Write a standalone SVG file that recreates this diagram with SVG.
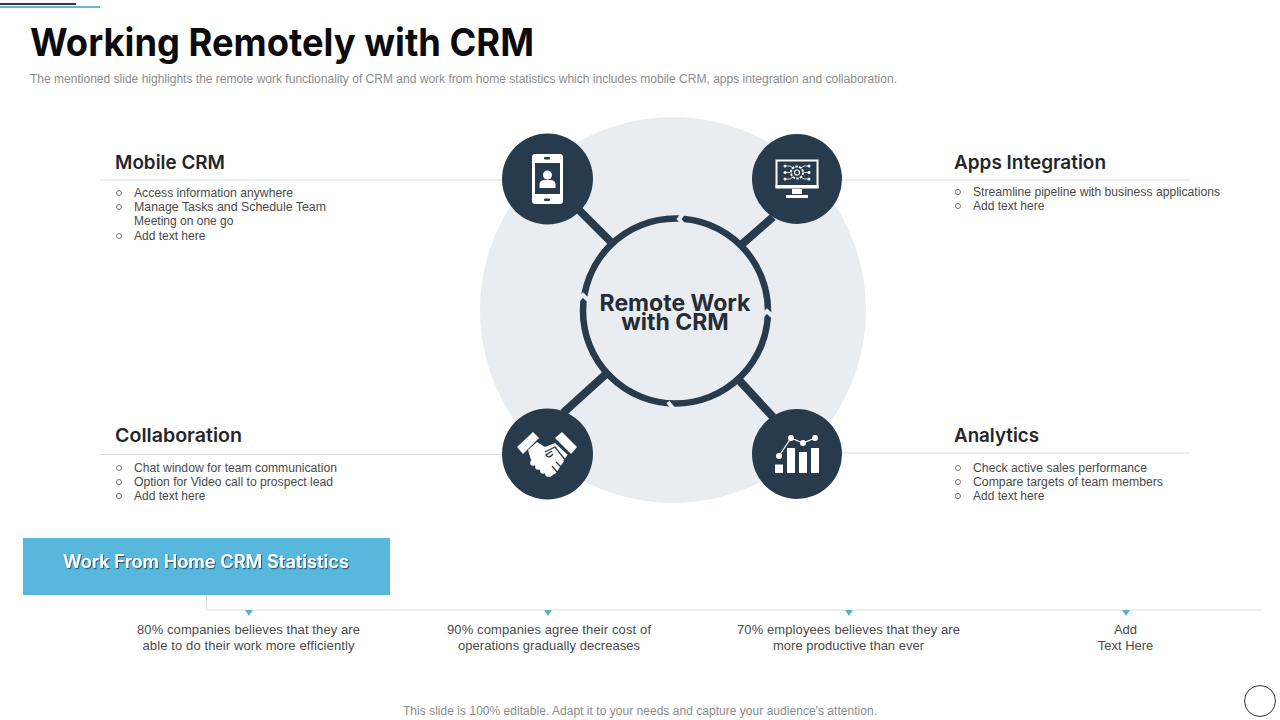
<svg xmlns="http://www.w3.org/2000/svg" width="1280" height="720" viewBox="0 0 1280 720">
<style>
text{font-family:"Liberation Sans",Arial,sans-serif}
.title{font-family:Inter,"Liberation Sans",sans-serif;font-weight:700;font-size:38px;fill:#0b0b0d}
.sub{font-size:12px;fill:#8c8c8c}
.head{font-family:Inter,"Liberation Sans",sans-serif;font-weight:600;font-size:19px;fill:#24262b}
.body{font-size:12px;fill:#4a4a4a}
.stat{font-size:13px;fill:#4a4a4a;text-anchor:middle}
.center{font-family:Inter,"Liberation Sans",sans-serif;font-weight:700;font-size:23px;fill:#262c35;text-anchor:middle}
.rule{stroke:#d9dde1;stroke-width:1;fill:none}
.bul{fill:none;stroke:#555;stroke-width:.8}
.dark{fill:#283b4d}
.ic{fill:#fff}
.icl{fill:none;stroke:#fff;stroke-width:1.2}
.spoke{stroke:#283b4d;stroke-width:8;fill:none}
.ring{stroke:#283b4d;stroke-width:6.500;fill:none}
.gap{stroke:#e9edf2;stroke-width:4;fill:none}
.tri{fill:#5bb0ce}
</style>
<defs><filter id="sh" x="-5%" y="-30%" width="110%" height="160%"><feDropShadow dx="1" dy="1.200" stdDeviation=".7" flood-color="#26465a" flood-opacity=".8"/></filter></defs>
<rect width="1280" height="720" fill="#fff"/>
<g id="topbars"><rect x="0" y="3" width="76" height="2" fill="#283b4d"/><rect x="0" y="6" width="100" height="2" fill="#6cb4d2"/></g>
<text class="title" x="30" y="56" textLength="504" lengthAdjust="spacingAndGlyphs">Working Remotely with CRM</text>
<text class="sub" x="30" y="83" textLength="867" lengthAdjust="spacingAndGlyphs">The mentioned slide highlights the remote work functionality of CRM and work from home statistics which includes mobile CRM, apps integration and collaboration.</text>
<g id="backdrop"><circle cx="673" cy="310" r="193" fill="#e9edf2"/></g>
<g id="connectors">
<path class="rule" d="M100 180H505M842 180H1190M100 454.500H505M842 453H1190"/>
<path class="rule" d="M206.500 595V610H1262"/>
<path class="spoke" d="M578 209L611 242M773 217L741 245M563 413L606 374M773 417L738 379"/>
<circle class="ring" cx="675.500" cy="311" r="92.500"/>
<path class="gap" d="M683 214L679 219L683 224M762 316L767 311L772 316M668 402L672 407L668 412M578 300L583 295L588 300"/>
</g>
<g id="center"><text class="center" x="675" y="311">Remote Work<tspan x="675" y="330">with CRM</tspan></text></g>
<g id="node-mobile">
<circle class="dark" cx="547.500" cy="179" r="45.500"/>
<rect class="ic" x="532" y="154" width="31" height="50" rx="3"/>
<rect class="dark" x="535" y="163" width="25" height="31"/>
<rect class="dark" x="544" y="157" width="6" height="2.500" rx="1"/>
<rect class="dark" x="544" y="198.500" width="6" height="2.500" rx="1"/>
<circle class="ic" cx="547.500" cy="175" r="4.500"/>
<path class="ic" d="M539.500 188V184Q540 180 545 180H550Q555 180 555.500 184V188Z"/>
<text class="head" x="115" y="169" textLength="110" lengthAdjust="spacingAndGlyphs">Mobile CRM</text>
<circle class="bul" cx="119" cy="193" r="2.500"/><text class="body" x="134" y="197" textLength="159" lengthAdjust="spacingAndGlyphs">Access information anywhere</text>
<circle class="bul" cx="119" cy="207" r="2.500"/><text class="body" x="134" y="211" textLength="192" lengthAdjust="spacingAndGlyphs">Manage Tasks and Schedule Team</text>
<text class="body" x="134" y="225">Meeting on one go</text>
<circle class="bul" cx="119" cy="236" r="2.500"/><text class="body" x="134" y="240">Add text here</text>
</g>
<g id="node-apps">
<circle class="dark" cx="797" cy="179" r="45"/>
<rect x="776.500" y="160.500" width="41" height="27" fill="none" stroke="#fff" stroke-width="2"/>
<rect class="ic" x="775.500" y="185" width="43" height="3"/>
<rect class="ic" x="792" y="189" width="10" height="5"/>
<rect class="ic" x="786" y="195" width="22" height="3"/>
<circle cx="797" cy="172.500" r="6" fill="none" stroke="#fff" stroke-width="2" stroke-dasharray="2.500 1.200"/>
<circle cx="797" cy="172.500" r="2.500" fill="none" stroke="#fff" stroke-width="1.200"/>
<path class="icl" style="stroke-width:.8" d="M786 166H790L793 168M808 166H804L801 168M786 179H790L793 177M808 179H804L801 177M786 172.500H790M808 172.500H804"/>
<g class="ic"><circle cx="785" cy="166" r="1.500"/><circle cx="809" cy="166" r="1.500"/><circle cx="785" cy="172.500" r="1.500"/><circle cx="809" cy="172.500" r="1.500"/><circle cx="785" cy="179" r="1.500"/><circle cx="809" cy="179" r="1.500"/></g>
<text class="head" x="954" y="169" textLength="152" lengthAdjust="spacingAndGlyphs">Apps Integration</text>
<circle class="bul" cx="958" cy="192" r="2.500"/><text class="body" x="973" y="196" textLength="247" lengthAdjust="spacingAndGlyphs">Streamline pipeline with business applications</text>
<circle class="bul" cx="958" cy="206" r="2.500"/><text class="body" x="973" y="210">Add text here</text>
</g>
<g id="node-collab">
<circle class="dark" cx="547.500" cy="454" r="45.500"/>
<path class="ic" d="M517 447L533 432L539 438L523 454Z"/>
<path class="ic" d="M562 432L577 447L571 454L555 438Z"/>
<path class="ic" d="M537 442L528 450L532 463L540 470L550 477L556 473L568 455L555 443L545 447Z"/>
<g class="ic"><circle cx="533" cy="463" r="2.800"/><circle cx="538" cy="467" r="2.800"/><circle cx="543" cy="471" r="2.800"/><circle cx="548" cy="474" r="2.800"/></g>
<path d="M545 452L555 447L567 462M552 451L546 455Q549 459 553 454M556 462L562 468M552 466L557 472" fill="none" stroke="#283b4d" stroke-width="1.300"/>
<path d="M564 461L570 453" fill="none" stroke="#283b4d" stroke-width="1.500"/>
<text class="head" x="115" y="442" textLength="127" lengthAdjust="spacingAndGlyphs">Collaboration</text>
<circle class="bul" cx="119" cy="468" r="2.500"/><text class="body" x="134" y="472" textLength="203" lengthAdjust="spacingAndGlyphs">Chat window for team communication</text>
<circle class="bul" cx="119" cy="482" r="2.500"/><text class="body" x="134" y="486" textLength="199" lengthAdjust="spacingAndGlyphs">Option for Video call to prospect lead</text>
<circle class="bul" cx="119" cy="496" r="2.500"/><text class="body" x="134" y="500">Add text here</text>
</g>
<g id="node-analytics">
<circle class="dark" cx="797" cy="454" r="45"/>
<rect class="ic" x="775" y="464.500" width="8" height="8.500"/>
<rect class="ic" x="787" y="448" width="8" height="25"/>
<rect class="ic" x="799" y="452" width="8" height="21"/>
<rect class="ic" x="811" y="448" width="8" height="25"/>
<path class="icl" d="M779 456L791 438L803 443L815 438"/>
<g class="ic"><circle cx="779" cy="456" r="3"/><circle cx="791" cy="438" r="3"/><circle cx="803" cy="443" r="3"/><circle cx="815" cy="438" r="3"/></g>
<text class="head" x="954" y="442" textLength="85" lengthAdjust="spacingAndGlyphs">Analytics</text>
<circle class="bul" cx="958" cy="468" r="2.500"/><text class="body" x="973" y="472" textLength="174" lengthAdjust="spacingAndGlyphs">Check active sales performance</text>
<circle class="bul" cx="958" cy="482" r="2.500"/><text class="body" x="973" y="486" textLength="190" lengthAdjust="spacingAndGlyphs">Compare targets of team members</text>
<circle class="bul" cx="958" cy="496" r="2.500"/><text class="body" x="973" y="500">Add text here</text>
</g>
<g id="stats-header"><rect x="23" y="538" width="367" height="57" fill="#58b7dc"/>
<text x="206" y="568" text-anchor="middle" filter="url(#sh)" style="font-family:Inter,'Liberation Sans',sans-serif;font-weight:600;font-size:18px;fill:#fff" textLength="286" lengthAdjust="spacingAndGlyphs">Work From Home CRM Statistics</text></g>
<g id="stat-1"><path class="tri" d="M245 610H253L249 616Z"/><text class="stat" x="248.500" y="634" textLength="223" lengthAdjust="spacing">80% companies believes that they are</text><text class="stat" x="248.500" y="650" textLength="212" lengthAdjust="spacing">able to do their work more efficiently</text></g>
<g id="stat-2"><path class="tri" d="M544 610H552L548 616Z"/><text class="stat" x="549" y="634" textLength="204" lengthAdjust="spacing">90% companies agree their cost of</text><text class="stat" x="549" y="650" textLength="182" lengthAdjust="spacing">operations gradually decreases</text></g>
<g id="stat-3"><path class="tri" d="M845 610H853L849 616Z"/><text class="stat" x="848.500" y="634" textLength="223" lengthAdjust="spacing">70% employees believes that they are</text><text class="stat" x="848.500" y="650" textLength="151" lengthAdjust="spacing">more productive than ever</text></g>
<g id="stat-4"><path class="tri" d="M1122 610H1130L1126 616Z"/><text class="stat" x="1125.500" y="634">Add</text><text class="stat" x="1125.500" y="650">Text Here</text></g>
<text class="sub" x="640" y="715" text-anchor="middle" textLength="474" lengthAdjust="spacing">This slide is 100% editable. Adapt it to your needs and capture your audience's attention.</text>
<circle cx="1260" cy="701" r="15.500" fill="#fff" stroke="#333" stroke-width="1"/>
</svg>
